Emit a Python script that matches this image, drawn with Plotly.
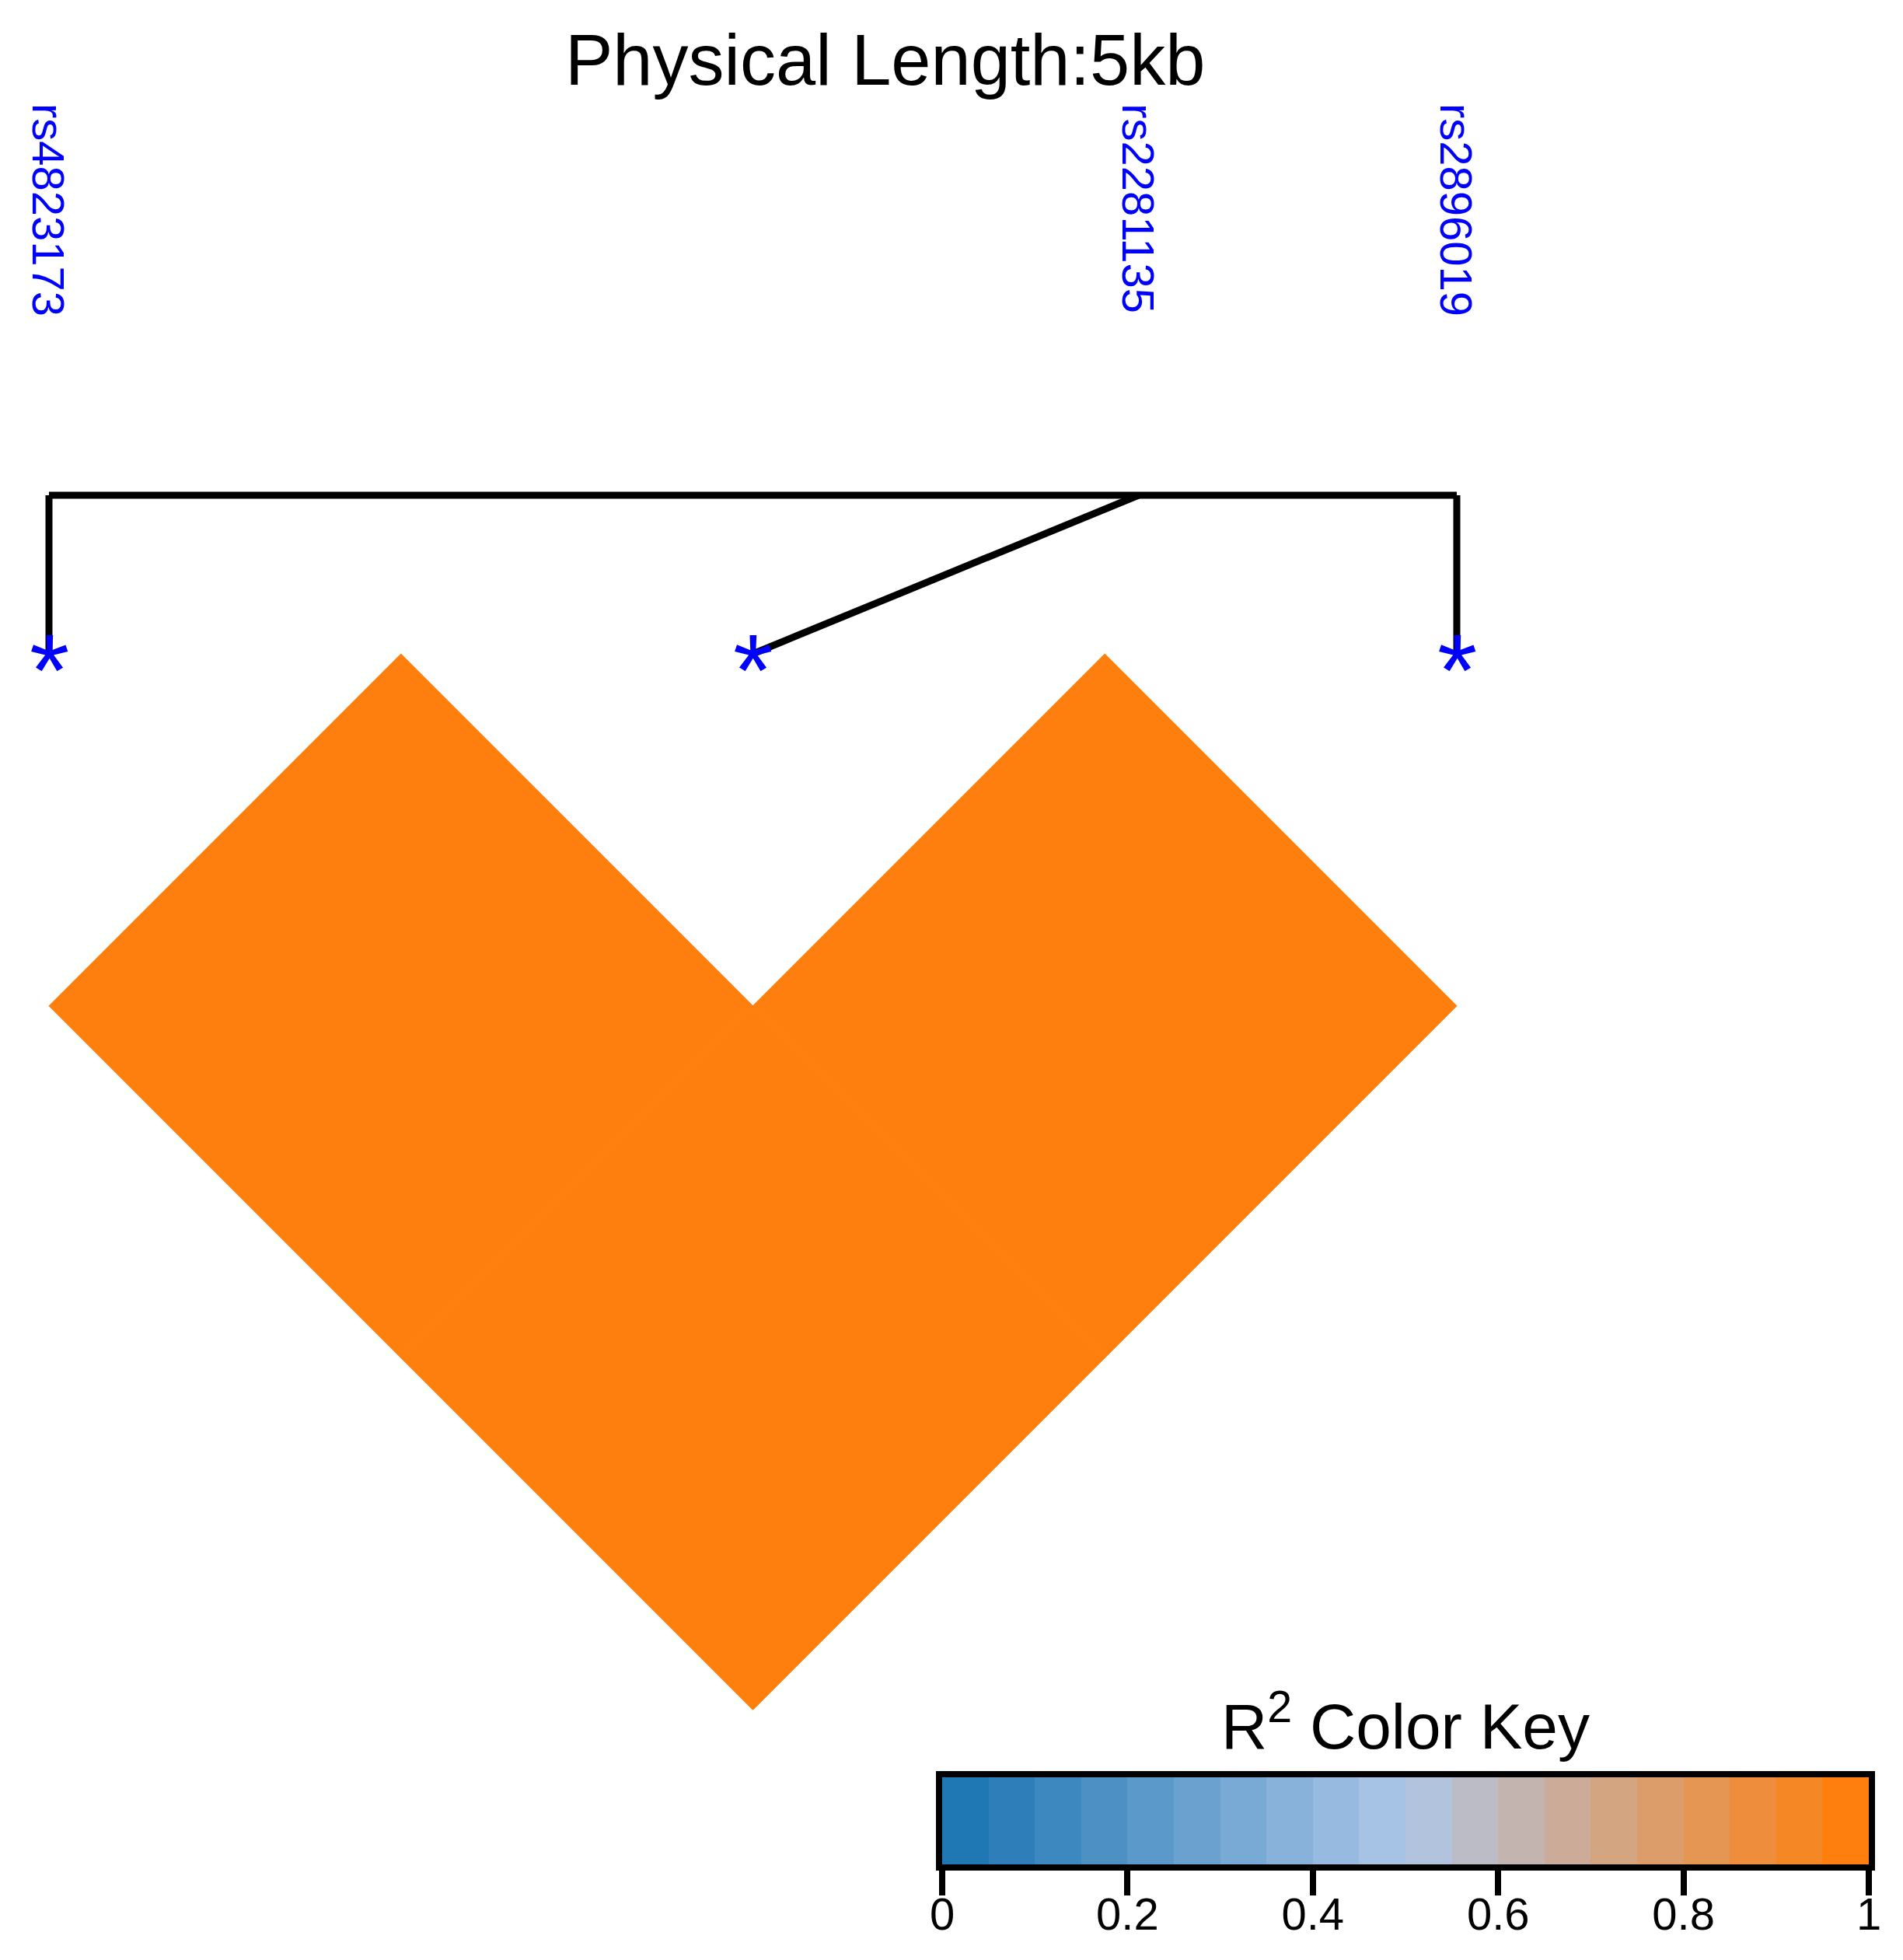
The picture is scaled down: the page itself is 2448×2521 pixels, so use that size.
import plotly.graph_objects as go

# ---------------- data ----------------
snp_names = ["rs4823173", "rs2281135", "rs2896019"]
snp_pos_kb = [0.0, 3.87, 5.0]          # relative physical positions (kb)
pair_i = [0, 0, 1]
pair_j = [1, 2, 2]
r2_values = [1.0, 1.0, 1.0]
title_text = "Physical Length:5kb"
key_title = "R<sup>2</sup> Color Key"
key_ticks = [0, 0.2, 0.4, 0.6, 0.8, 1]
key_colors = ["#1F77B4", "#2E7FB9", "#3D88BF", "#4C90C4", "#5B99CA",
              "#6AA1CF", "#79AAD5", "#88B2DA", "#97BAE0", "#A6C3E5",
              "#B2C3DD", "#BBBCC6", "#C3B4AF", "#CCAC98", "#D4A581",
              "#DD9D6A", "#E59653", "#EE8E3C", "#F68725", "#FF7F0E"]

# ---------------- layout constants ----------------
W, H = 2448, 2521
OX, OY = 8, 8            # page offset compensation
PX_LEFT, PX_UNIT, PX_TOP = 63.0 - OX, 905.5, 841.0 - OY
FONT = "Liberation Sans, Arial, Helvetica, sans-serif"
y_line = (637 - OY - PX_TOP) / PX_UNIT
y_label = (131 - OY - PX_TOP) / PX_UNIT

n = len(snp_names)
span = snp_pos_kb[-1] - snp_pos_kb[0]
xg = [(n - 1) * (p - snp_pos_kb[0]) / span for p in snp_pos_kb]

def color_for(v):
    k = min(int(v / (1.0 / len(key_colors))), len(key_colors) - 1)
    return key_colors[k]

def px(xp):
    return (xp - OX) / W

def py(yp):
    return 1 - (yp - OY) / H

fig = go.Figure()

# LD diamonds
for i, j, v in zip(pair_i, pair_j, r2_values):
    cx, cy, h = (i + j) / 2, (j - i) / 2, 0.5
    c = color_for(v)
    fig.add_trace(go.Scatter(
        x=[cx, cx + h, cx, cx - h, cx], y=[cy - h, cy, cy + h, cy, cy - h],
        mode="lines", fill="toself", fillcolor=c,
        line=dict(color=c, width=1), hoverinfo="skip", showlegend=False))

# connecting lines from genomic map to SNP positions
lx, ly = [xg[0], xg[-1], None], [y_line, y_line, None]
for k in range(n):
    lx += [xg[k], k, None]
    ly += [y_line, 0, None]
fig.add_trace(go.Scatter(x=lx, y=ly, mode="lines",
                         line=dict(color="black", width=9),
                         hoverinfo="skip", showlegend=False))

annotations = []
# asterisks
for k in range(n):
    annotations.append(dict(x=k, y=0, xref="x", yref="y", text="*",
                            showarrow=False, xanchor="center", yanchor="middle",
                            yshift=-21,
                            font=dict(family=FONT, size=132, color="blue")))
# SNP labels
for k, name in enumerate(snp_names):
    annotations.append(dict(x=xg[k], y=y_label, xref="x", yref="y", text=name,
                            textangle=90, showarrow=False,
                            xanchor="center", yanchor="top",
                            font=dict(family=FONT, size=58, color="blue")))
# title
annotations.append(dict(x=px(1138), y=py(130), xref="paper", yref="paper",
                        text=title_text, showarrow=False,
                        xanchor="center", yanchor="bottom",
                        font=dict(family=FONT, size=92, color="black")))
# key title
annotations.append(dict(x=px(1808), y=py(2268), xref="paper", yref="paper",
                        text=key_title, showarrow=False,
                        xanchor="center", yanchor="bottom",
                        font=dict(family=FONT, size=82, color="black")))

# color key bars
nk = len(key_colors)
fig.add_trace(go.Bar(
    x=[(k + 0.5) / nk for k in range(nk)], y=[1] * nk, width=[1.0 / nk] * nk,
    marker=dict(color=key_colors, line=dict(width=0)),
    xaxis="x2", yaxis="y2", hoverinfo="skip", showlegend=False))

fig.update_layout(
    template="none",
    width=W, height=H, margin=dict(l=0, r=0, t=0, b=0, pad=0, autoexpand=False),
    paper_bgcolor="white", plot_bgcolor="white",
    bargap=0, showlegend=False,
    xaxis=dict(domain=[0, 1], range=[-PX_LEFT / PX_UNIT, (W - PX_LEFT) / PX_UNIT],
               visible=False, automargin=False),
    yaxis=dict(domain=[0, 1], range=[(H - PX_TOP) / PX_UNIT, -PX_TOP / PX_UNIT],
               visible=False, automargin=False),
    xaxis2=dict(domain=[px(1212), px(2404)], range=[0, 1], anchor="y2",
                automargin=False,
                showline=True, mirror=True, linewidth=8, linecolor="black",
                showgrid=False, zeroline=False,
                ticks="outside", ticklen=32, tickwidth=8, tickcolor="black",
                tickvals=key_ticks, ticktext=[str(t) for t in key_ticks],
                ticklabelstandoff=-26,
                tickfont=dict(family=FONT, size=58, color="black")),
    yaxis2=dict(domain=[py(2398), py(2286)], range=[0, 1], anchor="x2",
                automargin=False,
                showline=True, mirror=True, linewidth=8, linecolor="black",
                showgrid=False, zeroline=False, showticklabels=False, ticks=""),
    annotations=annotations,
)

fig.write_html("out.html")
